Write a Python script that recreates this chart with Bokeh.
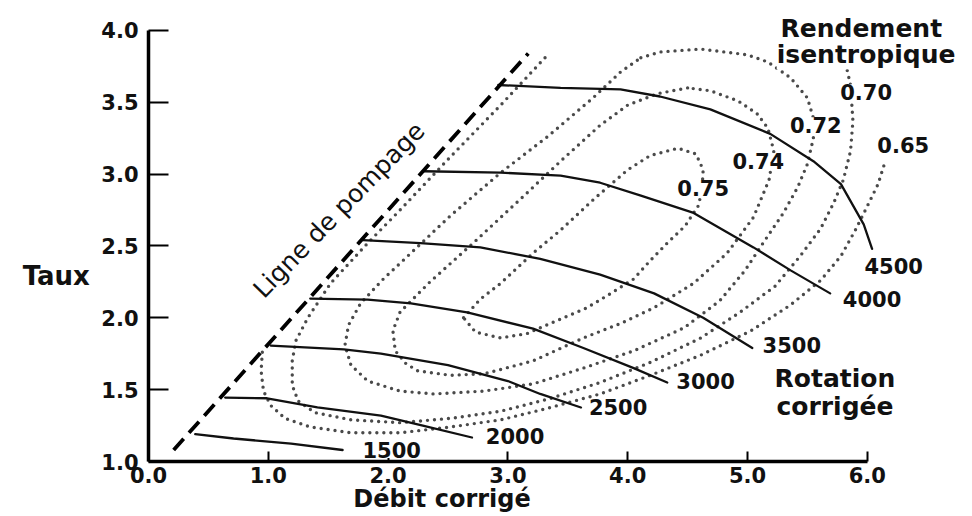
from bokeh.plotting import figure
from bokeh.models import Range1d, FixedTicker, Label
from bokeh.embed import file_html
from bokeh.resources import INLINE

# ---------------- data ----------------
x_ticks = [0, 1, 2, 3, 4, 5, 6]
x_tick_labels = ["0.0", "1.0", "2.0", "3.0", "4.0", "5.0", "6.0"]
y_ticks = [1.0, 1.5, 2.0, 2.5, 3.0, 3.5, 4.0]
y_tick_labels = ["1.0", "1.5", "2.0", "2.5", "3.0", "3.5", "4.0"]

# surge line (Ligne de pompage)
surge_x = [0.21, 3.17]
surge_y = [1.08, 3.84]

# corrected speed lines
speed_labels = ["1500", "2000", "2500", "3000", "3500", "4000", "4500"]
n1500_x = [0.39, 0.71, 1.19, 1.62]
n1500_y = [1.19, 1.16, 1.125, 1.08]
n2000_x = [0.64, 0.99, 1.41, 1.94, 2.29, 2.70]
n2000_y = [1.445, 1.44, 1.376, 1.32, 1.25, 1.167]
n2500_x = [1.02, 1.63, 1.94, 2.50, 3.00, 3.27, 3.61]
n2500_y = [1.807, 1.78, 1.75, 1.67, 1.56, 1.47, 1.376]
n3000_x = [1.35, 1.83, 2.19, 2.66, 3.21, 3.63, 4.05, 4.33]
n3000_y = [2.134, 2.127, 2.10, 2.037, 1.925, 1.79, 1.65, 1.55]
n3500_x = [1.79, 2.27, 2.77, 3.27, 3.77, 4.22, 4.63, 5.04]
n3500_y = [2.54, 2.52, 2.49, 2.41, 2.30, 2.17, 2.00, 1.79]
n4000_x = [2.30, 2.94, 3.44, 3.77, 4.11, 4.55, 5.05, 5.36, 5.69]
n4000_y = [3.02, 3.01, 2.99, 2.94, 2.85, 2.73, 2.49, 2.33, 2.17]
n4500_x = [2.92, 3.44, 3.94, 4.27, 4.69, 5.19, 5.55, 5.78, 5.97, 6.04]
n4500_y = [3.62, 3.60, 3.59, 3.54, 3.45, 3.28, 3.09, 2.93, 2.65, 2.48]
speed_label_x = [2.03, 3.06, 3.92, 4.65, 5.37, 6.04, 6.22]
speed_label_y = [1.08, 1.18, 1.376, 1.56, 1.81, 2.13, 2.36]

# isentropic efficiency contours
eff_labels = ["0.75", "0.74", "0.72", "0.70", "0.65"]
eff075_x = [2.63, 2.77, 2.94, 3.21, 3.44, 3.71, 4.00, 4.19, 4.42, 4.57, 4.63, 4.62, 4.59,
            4.48, 4.33, 4.19, 4.05, 3.86, 3.66, 3.38, 3.16, 2.94, 2.73, 2.63]
eff075_y = [2.00, 2.13, 2.24, 2.45, 2.61, 2.82, 3.03, 3.13, 3.18, 3.14, 3.03, 2.89, 2.78,
            2.64, 2.52, 2.40, 2.27, 2.17, 2.07, 1.97, 1.89, 1.86, 1.90, 2.00]
eff074_x = [4.50, 4.25, 4.00, 3.77, 3.44, 3.11, 2.71, 2.35, 2.10, 2.04, 2.06, 2.15, 2.25,
            2.52, 2.80, 3.21, 3.63, 3.94, 4.22, 4.55, 4.83, 5.05, 5.18, 5.22, 5.17, 5.08,
            4.92, 4.69, 4.50]
eff074_y = [3.60, 3.56, 3.48, 3.34, 3.09, 2.83, 2.52, 2.25, 2.04, 1.91, 1.77, 1.68, 1.63,
            1.60, 1.61, 1.70, 1.86, 1.96, 2.07, 2.24, 2.45, 2.70, 2.96, 3.16, 3.32, 3.42,
            3.51, 3.58, 3.60]
eff072_x = [4.11, 4.27, 4.61, 5.00, 5.17, 5.36, 5.50, 5.55, 5.55, 5.50, 5.42, 5.30, 5.13,
            4.98, 4.77, 4.47, 4.05, 3.63, 3.21, 2.80, 2.38, 2.10, 1.83, 1.69, 1.64, 1.67,
            1.77, 1.96, 2.19, 2.52, 2.94, 3.33, 3.71, 3.94, 4.11]
eff072_y = [3.81, 3.85, 3.87, 3.83, 3.78, 3.67, 3.53, 3.39, 3.25, 3.07, 2.91, 2.73, 2.52,
            2.33, 2.12, 1.93, 1.77, 1.65, 1.54, 1.49, 1.47, 1.49, 1.56, 1.67, 1.81, 1.95,
            2.10, 2.27, 2.45, 2.71, 3.01, 3.26, 3.53, 3.71, 3.81]
eff070_x = [3.31, 2.94, 2.52, 2.10, 1.83, 1.52, 1.33, 1.23, 1.20, 1.20, 1.25, 1.39, 1.69,
            2.10, 2.52, 2.94, 3.36, 3.77, 4.19, 4.61, 4.94, 5.23, 5.44, 5.61, 5.72, 5.80,
            5.86, 5.88, 5.86, 5.83]
eff070_y = [3.81, 3.48, 3.12, 2.75, 2.52, 2.24, 2.00, 1.84, 1.70, 1.53, 1.42, 1.34, 1.29,
            1.27, 1.30, 1.35, 1.44, 1.55, 1.69, 1.86, 2.04, 2.22, 2.43, 2.62, 2.80, 2.96,
            3.16, 3.37, 3.62, 3.73]
eff065_x = [0.95, 0.94, 0.96, 1.02, 1.14, 1.35, 1.69, 2.10, 2.52, 2.94, 3.33, 3.77, 4.19,
            4.61, 5.03, 5.36, 5.61, 5.78, 5.90, 5.99, 6.09, 6.15]
eff065_y = [1.76, 1.63, 1.49, 1.39, 1.30, 1.24, 1.20, 1.20, 1.24, 1.29, 1.37, 1.47, 1.60,
            1.74, 1.91, 2.09, 2.26, 2.43, 2.61, 2.76, 2.93, 3.09]
eff_label_x = [4.63, 5.09, 5.57, 5.99, 6.30]
eff_label_y = [2.90, 3.09, 3.34, 3.57, 3.20]

# ---------------- layout ----------------
W, H = 968, 512
ORIGIN_X_PX, PX_PER_X = 148.0, 119.8   # x = 0 at this canvas column
ORIGIN_Y_PX, PX_PER_Y = 461.0, 143.7   # y = 1 at this canvas row
FONT = "DejaVu Sans"

x_range = Range1d(-ORIGIN_X_PX / PX_PER_X, (W - ORIGIN_X_PX) / PX_PER_X)
y_range = Range1d(1 - (H - ORIGIN_Y_PX) / PX_PER_Y, 1 + ORIGIN_Y_PX / PX_PER_Y)

p = figure(width=W, height=H, x_range=x_range, y_range=y_range,
           output_backend="svg", toolbar_location=None,
           min_border_left=0, min_border_right=0, min_border_top=0, min_border_bottom=0)
p.title.visible = False
p.grid.visible = False
p.outline_line_color = None
p.background_fill_color = "white"
p.border_fill_color = "white"


def key(t):
    return int(t) if float(t).is_integer() else t


xa = p.xaxis[0]
xa.ticker = FixedTicker(ticks=x_ticks)
xa.major_label_overrides = {key(t): l for t, l in zip(x_ticks, x_tick_labels)}
xa.bounds = (0, 6)
xa.fixed_location = 1.0
ya = p.yaxis[0]
ya.ticker = FixedTicker(ticks=y_ticks)
ya.major_label_overrides = {key(t): l for t, l in zip(y_ticks, y_tick_labels)}
ya.bounds = (1, 4)
ya.fixed_location = 0.0
for ax in (xa, ya):
    ax.axis_line_width = 3.5
    ax.axis_line_color = "black"
    ax.major_tick_out = 0
    ax.major_tick_line_width = 2
    ax.major_tick_line_color = "black"
    ax.minor_tick_line_color = None
    ax.major_label_text_font = FONT
    ax.major_label_text_font_style = "bold"
    ax.major_label_text_font_size = "21px"
    ax.major_label_text_color = "#111111"
xa.major_tick_in = 10
xa.major_label_standoff = 5
ya.major_tick_in = 20
ya.major_label_standoff = 10

# efficiency contours (dotted)
for cx, cy in [(eff065_x, eff065_y), (eff070_x, eff070_y), (eff072_x, eff072_y),
               (eff074_x, eff074_y), (eff075_x, eff075_y)]:
    p.line(cx, cy, line_width=3.4, line_dash="0 7", line_cap="round", line_join="round",
           color="#4a4a4a")

# speed lines (solid)
for sx, sy in [(n1500_x, n1500_y), (n2000_x, n2000_y), (n2500_x, n2500_y), (n3000_x, n3000_y),
               (n3500_x, n3500_y), (n4000_x, n4000_y), (n4500_x, n4500_y)]:
    p.line(sx, sy, line_width=2.3, color="#111111", line_join="round", line_cap="round")

# surge line
p.line(surge_x, surge_y, line_width=3.8, line_dash="15 8", color="black")


def add_label(x, y, text, size, bold=True, align="center", bg=None, angle=0.0):
    lab = Label(x=x, y=y, text=text, text_font=FONT, text_font_size=size,
                text_font_style="bold" if bold else "normal", text_color="#111111",
                text_align=align, text_baseline="middle", angle=angle)
    if bg:
        lab.background_fill_color = bg
    p.add_layout(lab)


for lx, ly, t in zip(speed_label_x, speed_label_y, speed_labels):
    add_label(lx, ly, t, "21px", bg="white")
for lx, ly, t in zip(eff_label_x, eff_label_y, eff_labels):
    add_label(lx, ly, t, "21px", bg="white")

add_label(-0.77, 2.29, "Taux", "26px")
add_label(2.45, 0.74, "Débit corrigé", "24px")
add_label(5.73, 1.58, "Rotation", "25px")
add_label(5.73, 1.38, "corrigée", "25px")
add_label(5.95, 4.01, "Rendement", "25px", bg="white")
add_label(5.99, 3.83, "isentropique", "25px", bg="white")
add_label(1.59, 2.75, "Ligne de pompage", "25px", bold=False, angle=0.80)

open("out.html", "w").write(file_html(p, INLINE))
